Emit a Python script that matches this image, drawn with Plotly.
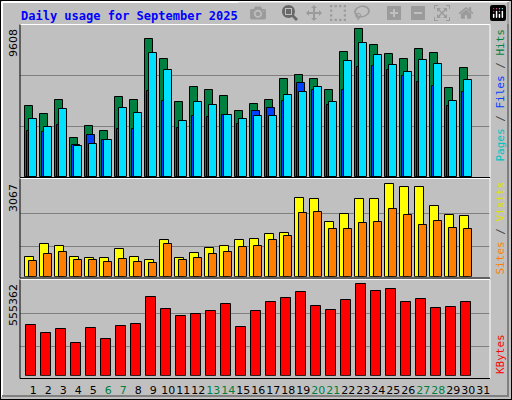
import plotly.graph_objects as go

days = list(range(1, 32))
day_labels = [str(d) for d in days]
weekend = [6, 7, 13, 14, 20, 21, 27, 28]

hits = [4596,4076,4986,2516,3296,2971,5181,4986,8951,7651,4856,5831,5636,5246,4271,4726,4986,6351,6611,6351,5636,8106,9608,8561,7976,7651,8301,8041,5766,7066]
files = [2971,2906,3361,2061,2711,2386,3101,3101,5571,4921,3166,3946,3881,4011,3426,4271,4466,4921,6091,5636,4661,5636,7131,7196,6936,6546,6156,5896,4596,5506]
pages = [3751,3231,4401,1996,2126,2386,4466,4141,8041,6936,3621,4856,4661,4011,3751,3946,3946,5311,5506,5831,4856,7521,8691,7911,7261,6806,7586,7326,4921,6286]
visits = [642,1074,1007,642,609,609,908,642,542,1207,609,775,941,1007,1207,1240,1406,1439,2602,2569,1805,2070,2569,2569,3067,2967,2967,2336,2037,2004]
sites = [509,742,808,542,542,476,576,476,443,1074,542,609,742,808,974,1007,1207,1340,2103,2137,1572,1572,1771,1804,2236,2037,1705,1838,1605,1572]
kbytes = [306062,257416,281739,196609,287820,220932,299981,312143,476318,403353,360788,372950,391191,433757,293901,391191,445918,470240,506725,421594,397272,458080,555362,512800,524962,445918,464159,409434,415515,445918]

W, H = 512, 400
def py(p): return 1 - p / H
def px(p): return p / W

X0, X1 = 20, 490
panels = [(25, 177, 9880), (180, 276.7, 3210), (280, 375.7, 582000)]
xr = [0.113, 31.446]

fig = go.Figure()
def bar(y, name, color, off, wid, ax):
    fig.add_trace(go.Bar(x=days[:len(y)], y=y, name=name, marker=dict(color=color, line=dict(color="black", width=1)),
                         offset=off, width=wid, xaxis="x" + ax, yaxis="y" + ax, showlegend=False, hoverinfo="skip"))

bar(hits, "Hits", "#008040", -0.55, 0.51, "")
bar(files, "Files", "#0040ff", -0.42, 0.5, "")
bar(pages, "Pages", "#00e0ff", -0.27, 0.5, "")
bar(visits, "Visits", "#ffff00", -0.55, 0.58, "2")
bar(sites, "Sites", "#ff8000", -0.27, 0.5, "2")
bar(kbytes, "KBytes", "#ff0000", -0.47, 0.67, "3")

layout = dict(width=W, height=H, margin=dict(l=0, r=0, t=0, b=0), paper_bgcolor="#c0c0c0",
              plot_bgcolor="#c0c0c0", barmode="overlay", bargap=0)
for i, (top, base, rng) in enumerate(panels):
    s = "" if i == 0 else str(i + 1)
    layout["yaxis" + s] = dict(domain=[py(base), py(top)], range=[0, rng], showticklabels=False,
                               tickvals=[rng / 3, 2 * rng / 3] if i == 0 else ([1009, 2105] if i == 1 else [179000, 379000]),
                               showgrid=True, gridcolor="#808080", gridwidth=1, zeroline=False, anchor="x" + s, fixedrange=True)
    layout["xaxis" + s] = dict(domain=[px(X0), px(X1)], range=xr, anchor="y" + s, showgrid=False, zeroline=False,
                               showticklabels=(i == 2), tickvals=days, tickangle=0, automargin=False,
                               ticktext=[f'<span style="color:#008040">{d}</span>' if d in weekend else str(d) for d in days],
                               tickfont=dict(family="DejaVu Sans", size=11, color="black"), ticks="", ticklen=0)
layout["xaxis3"]["ticklabelstandoff"] = 6
fig.update_layout(**layout)

shapes = []
shapes.append(dict(type="rect", xref="paper", yref="paper", x0=0, x1=1, y0=0, y1=1, line=dict(color="black", width=2)))
shapes.append(dict(type="line", xref="paper", yref="paper", x0=px(2), x1=px(509), y0=py(2), y1=py(2), line=dict(color="white", width=2)))
shapes.append(dict(type="line", xref="paper", yref="paper", x0=px(2), x1=px(2), y0=py(2), y1=py(397), line=dict(color="white", width=2)))
shapes.append(dict(type="line", xref="paper", yref="paper", x0=px(2), x1=px(509), y0=py(396), y1=py(396), line=dict(color="#808080", width=2)))
shapes.append(dict(type="line", xref="paper", yref="paper", x0=px(508), x1=px(508), y0=py(2), y1=py(397), line=dict(color="#808080", width=2)))
pan_edges = [(24.5, 177.5), (178.5, 278), (279.5, 378.5)]
for t, b in pan_edges:
    shapes.append(dict(type="line", xref="paper", yref="paper", x0=px(X0), x1=px(X1), y0=py(t), y1=py(t), line=dict(color="white", width=1)))
    shapes.append(dict(type="line", xref="paper", yref="paper", x0=px(X1), x1=px(X1), y0=py(t), y1=py(b), line=dict(color="white", width=1)))
    shapes.append(dict(type="line", xref="paper", yref="paper", x0=px(X0), x1=px(X1), y0=py(b), y1=py(b), line=dict(color="black", width=1)))
    shapes.append(dict(type="line", xref="paper", yref="paper", x0=px(X0), x1=px(X0), y0=py(t), y1=py(b), line=dict(color="black", width=1)))
fig.update_layout(shapes=shapes)

ann = []
ann.append(dict(text="<b>Daily usage for September 2025</b>", x=px(19), y=py(16), xref="paper", yref="paper",
                xanchor="left", yanchor="middle", showarrow=False, font=dict(family="DejaVu Sans Mono", size=12, color="#0000ff")))
for label, top in [("9608", 27), ("3067", 182), ("555362", 282)]:
    ann.append(dict(text=label, x=px(13), y=py(top), xref="paper", yref="paper", xanchor="center", yanchor="top",
                    textangle=-90, showarrow=False, font=dict(family="DejaVu Sans", size=11, color="black")))
ann.append(dict(text='<span style="color:#00c0c0">Pages</span> / <span style="color:#0040ff">Files</span> / <span style="color:#008040">Hits</span>',
                x=px(500), y=py(27), xref="paper", yref="paper", xanchor="center", yanchor="top", textangle=-90,
                showarrow=False, font=dict(family="DejaVu Sans Mono", size=11, color="#404040")))
ann.append(dict(text='<span style="color:#ff8000">Sites</span> / <span style="color:#e0e000">Visits</span>',
                x=px(500), y=py(277), xref="paper", yref="paper", xanchor="center", yanchor="bottom", textangle=-90,
                showarrow=False, font=dict(family="DejaVu Sans Mono", size=11, color="#404040")))
ann.append(dict(text='KBytes', x=px(500), y=py(376), xref="paper", yref="paper", xanchor="center", yanchor="bottom",
                textangle=-90, showarrow=False, font=dict(family="DejaVu Sans Mono", size=11, color="#ff0000")))
fig.update_layout(annotations=ann)

fig.write_html("out.html")
with open("out.html", encoding="utf-8") as f:
    html = f.read()
html = html.replace("<head>", "<head><style>html,body{margin:0;padding:0;overflow:hidden}</style>", 1)
with open("out.html", "w", encoding="utf-8") as f:
    f.write(html)
